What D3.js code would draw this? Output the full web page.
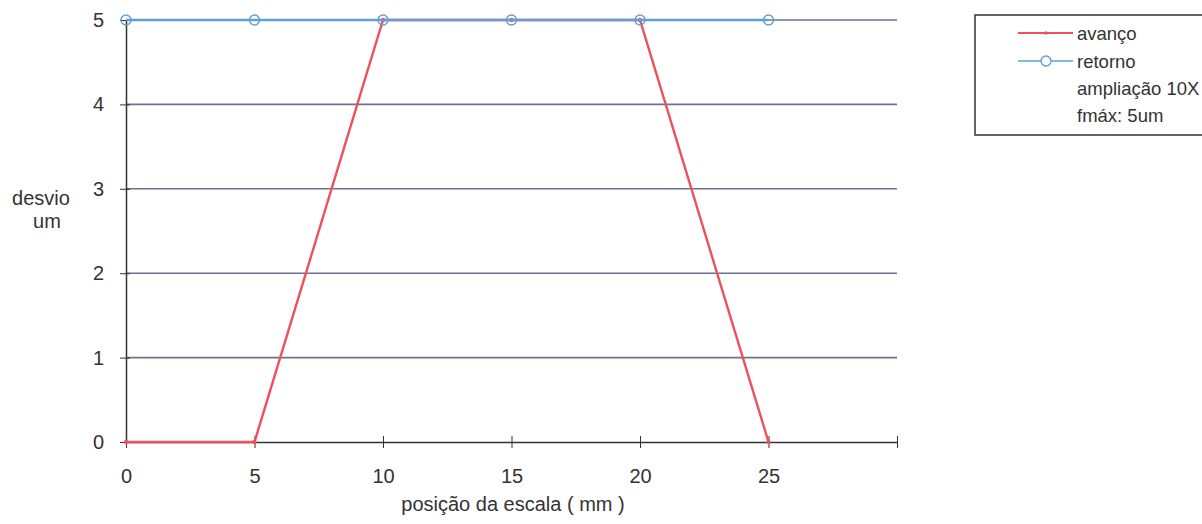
<!DOCTYPE html>
<html>
<head>
<meta charset="utf-8">
<script src="https://cdn.jsdelivr.net/npm/d3@7"></script>
<style>
  body { margin: 0; background: #fff; }
  svg { font-family: "Liberation Sans", Arial, sans-serif; }
</style>
</head>
<body>
<svg id="chart" width="1202" height="524"></svg>
<script>
// posição da escala (mm)
const positions = [0, 5, 10, 15, 20, 25];
const avanco = [0, 0, 5, 5, 5, 0];
const retorno = [5, 5, 5, 5, 5, 5];
const xTicks = [0, 5, 10, 15, 20, 25, 30];
const yTicks = [0, 1, 2, 3, 4, 5];
const legendLabels = ['avanço', 'retorno', 'ampliação 10X', 'fmáx: 5um'];

const margin = { top: 20, left: 126, right: 305, bottom: 82 };
const width = 1202, height = 524;
const innerW = width - margin.left - margin.right;
const innerH = height - margin.top - margin.bottom;

const svg = d3.select('#chart');
const g = svg.append('g').attr('transform', `translate(${margin.left},${margin.top})`);

const x = d3.scaleLinear().domain([0, 30]).range([0, innerW]);
const y = d3.scaleLinear().domain([0, 5]).range([innerH, 0]);

const gridColor = '#6b7194';
const textColor = '#333';
const red = '#f0505c';
const blue = '#5fa0d8';

// horizontal grid
g.append('g').selectAll('line')
  .data(yTicks.filter(d => d > 0))
  .enter().append('line')
  .attr('x1', 0).attr('x2', innerW)
  .attr('y1', d => y(d)).attr('y2', d => y(d))
  .attr('stroke', gridColor).attr('stroke-width', 1.6);

// axes
const axisX = d3.axisBottom(x).tickValues(xTicks)
  .tickFormat(d => d === 30 ? '' : d).tickSize(0).tickPadding(27);
const gx = g.append('g').attr('transform', `translate(0,${innerH})`).call(axisX);
gx.select('.domain').attr('stroke', textColor).attr('stroke-width', 1.5);
gx.selectAll('.tick line').attr('y1', -6).attr('y2', 6).attr('stroke', textColor);
gx.selectAll('text').attr('font-size', 20).attr('fill', textColor);

const axisY = d3.axisLeft(y).tickValues(yTicks).tickFormat(d3.format('d'))
  .tickSize(0).tickPadding(22);
const gy = g.append('g').call(axisY);
gy.select('.domain').attr('stroke', textColor).attr('stroke-width', 1.5);
gy.selectAll('.tick line').attr('x1', -6).attr('x2', 4).attr('stroke', textColor);
gy.selectAll('text').attr('font-size', 20).attr('fill', textColor);

// axis titles
svg.append('text').attr('x', 513).attr('y', 511)
  .attr('text-anchor', 'middle').attr('font-size', 20).attr('fill', textColor)
  .text('posição da escala ( mm )');
svg.append('text').attr('x', 41).attr('y', 205)
  .attr('text-anchor', 'middle').attr('font-size', 20).attr('fill', textColor)
  .text('desvio');
svg.append('text').attr('x', 47).attr('y', 228)
  .attr('text-anchor', 'middle').attr('font-size', 20).attr('fill', textColor)
  .text('um');

const line = d3.line().x(d => x(d[0])).y(d => y(d[1]));
const retData = positions.map((p, i) => [p, retorno[i]]);
const avData = positions.map((p, i) => [p, avanco[i]]);

// avanço series
g.append('path').datum(avData).attr('d', line)
  .attr('fill', 'none').attr('stroke', red).attr('stroke-width', 2.4);
g.selectAll('.av-pt').data(avData).enter().append('circle')
  .attr('cx', d => x(d[0])).attr('cy', d => y(d[1])).attr('r', 2.2)
  .attr('fill', red);

// retorno series (drawn on top)
g.append('path').datum(retData).attr('d', line)
  .attr('fill', 'none').attr('stroke', blue).attr('stroke-width', 2.4);
g.selectAll('.ret-pt').data(retData).enter().append('circle')
  .attr('cx', d => x(d[0])).attr('cy', d => y(d[1])).attr('r', 5)
  .attr('fill', 'none').attr('stroke', blue).attr('stroke-width', 1.4);

// legend
const lg = svg.append('g').attr('transform', 'translate(975,15)');
lg.append('rect').attr('x', 0).attr('y', 0).attr('width', 240).attr('height', 120)
  .attr('fill', '#fff').attr('stroke', textColor).attr('stroke-width', 1.5);
const rowY = [18, 46, 73, 100];
lg.append('line').attr('x1', 43).attr('x2', 98).attr('y1', rowY[0]).attr('y2', rowY[0])
  .attr('stroke', red).attr('stroke-width', 2);
lg.append('circle').attr('cx', 71).attr('cy', rowY[0]).attr('r', 1.8).attr('fill', red);
lg.append('line').attr('x1', 43).attr('x2', 98).attr('y1', rowY[1]).attr('y2', rowY[1])
  .attr('stroke', blue).attr('stroke-width', 1.6);
lg.append('circle').attr('cx', 71).attr('cy', rowY[1]).attr('r', 5)
  .attr('fill', '#fff').attr('stroke', blue).attr('stroke-width', 1.4);
lg.selectAll('.lt').data(legendLabels).enter().append('text')
  .attr('x', 102).attr('y', (d, i) => rowY[i] + 7)
  .attr('font-size', 18.5).attr('fill', textColor)
  .text(d => d);
</script>
</body>
</html>
